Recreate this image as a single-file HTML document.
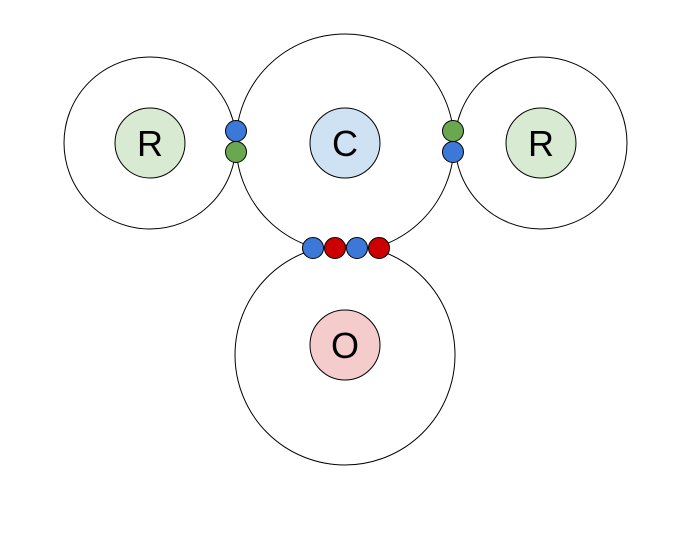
<!DOCTYPE html>
<html><head><style>body{margin:0;background:#fff}</style></head><body>
<svg width="687" height="532" xmlns="http://www.w3.org/2000/svg" font-family="Liberation Sans, sans-serif">
<g fill="#fff" stroke="#000" stroke-width="1">
<circle cx="150" cy="143" r="86"/>
<circle cx="541" cy="143" r="86"/>
<circle cx="345" cy="143" r="109"/>
<circle cx="345" cy="355" r="110"/>
<circle cx="150" cy="143" r="35" fill="#d9ead3"/>
<circle cx="541" cy="143" r="35" fill="#d9ead3"/>
<circle cx="345" cy="143" r="35" fill="#cfe2f3"/>
<circle cx="345" cy="345" r="35" fill="#f4cccc"/>
<circle cx="236" cy="131" r="10.5" fill="#3c78d8"/>
<circle cx="236" cy="152" r="10.5" fill="#6aa84f"/>
<circle cx="453" cy="131" r="10.5" fill="#6aa84f"/>
<circle cx="453" cy="152" r="10.5" fill="#3c78d8"/>
<circle cx="313" cy="248" r="10.5" fill="#3c78d8"/>
<circle cx="335" cy="248" r="10.5" fill="#cc0000"/>
<circle cx="357" cy="248" r="10.5" fill="#3c78d8"/>
<circle cx="379" cy="248" r="10.5" fill="#cc0000"/>
</g>
<g font-size="36" text-anchor="middle" fill="#000">
<text x="150" y="156">R</text>
<text x="541" y="156">R</text>
<text x="345" y="156">C</text>
<text x="345" y="358">O</text>
</g>
</svg>
</body></html>
